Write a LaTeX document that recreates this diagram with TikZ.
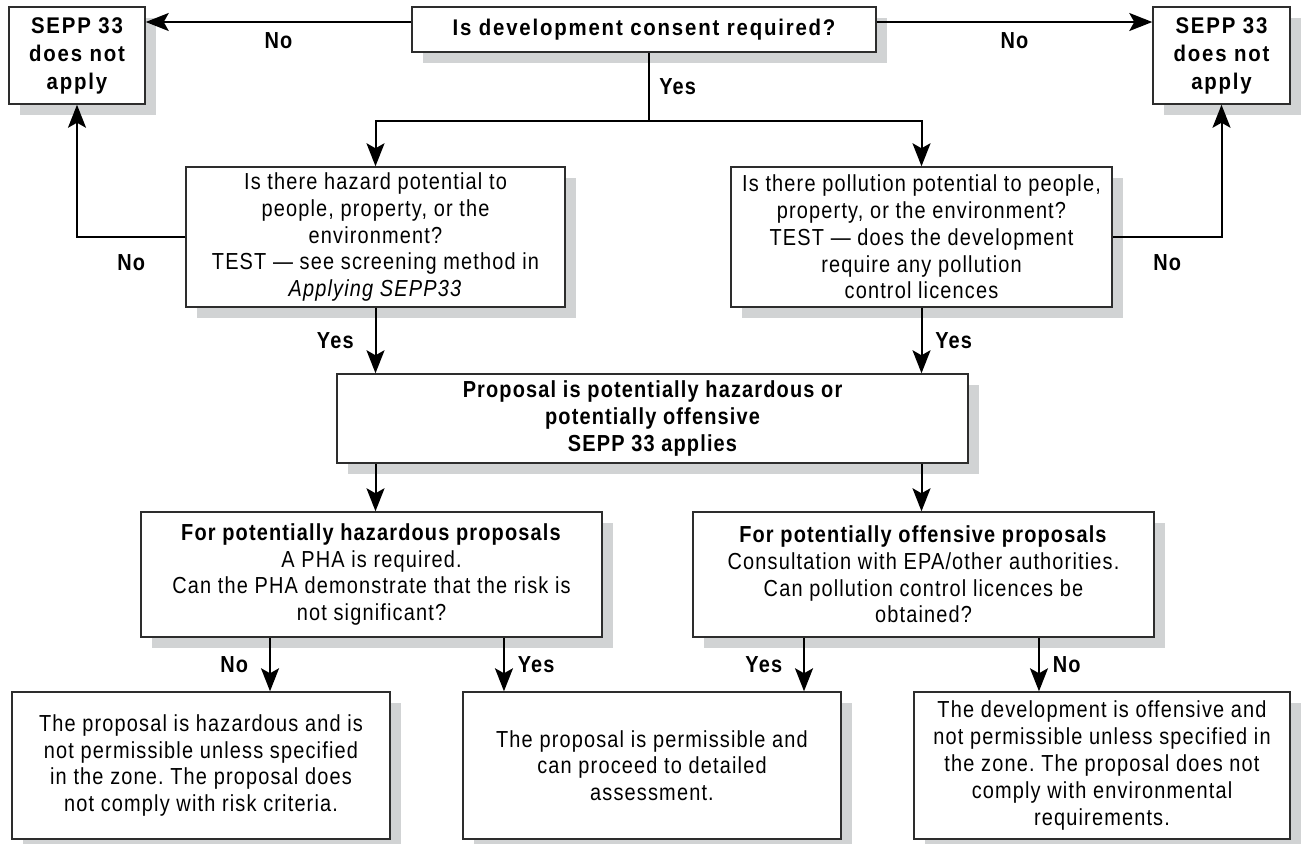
\documentclass[tikz,border=0pt]{standalone}
\usepackage{fontspec}
\setmainfont{Liberation Sans}[FakeStretch=0.86, LetterSpace=5]
\newfontfamily\widebf{Liberation Sans Bold}[FakeStretch=0.9, LetterSpace=8]
\usepackage{xcolor}
\usetikzlibrary{arrows.meta, positioning, shadows, calc}
\definecolor{shadowgray}{RGB}{209,211,212}
\definecolor{boxline}{RGB}{45,45,45}
\frenchspacing

\begin{document}
\begin{tikzpicture}[x=0.02cm, y=-0.02cm,
    box/.style={rectangle, draw=boxline, line width=0.03cm, fill=white,
                align=center, inner sep=0pt, font=\fontsize{13.2}{15.25}\selectfont,
                drop shadow={shadow xshift=0.22cm, shadow yshift=-0.22cm,
                             fill=shadowgray, opacity=1}},
    arr/.style={-{Stealth[length=0.46cm, width=0.36cm, inset=0.1cm]}, line width=0.04cm},
    line/.style={line width=0.04cm},
    lab/.style={font=\fontsize{13.2}{15.25}\selectfont\bfseries}
]
\useasboundingbox (0,0) rectangle (1304,843);

% top row
\node[box, minimum width=2.72cm, minimum height=1.94cm, font=\fontsize{12.9}{15.9}\selectfont\widebf]
    (sepL) at (77,55.5) {SEPP 33\\does not\\apply};
\node[box, minimum width=2.74cm, minimum height=1.94cm, font=\fontsize{12.9}{15.9}\selectfont\widebf]
    (sepR) at (1221.5,55.5) {SEPP 33\\does not\\apply};
\node[box, minimum width=9.28cm, minimum height=0.9cm, font=\fontsize{12.9}{15.25}\selectfont\widebf]
    (consent) at (644,29.5) {Is development consent required?};

% questions
\node[box, minimum width=7.58cm, minimum height=2.8cm] (hazard) at (375.5,237)
    {Is there hazard potential to\\people, property, or the\\environment?\\TEST — see screening method in\\\textit{Applying SEPP33}};
\node[box, minimum width=7.62cm, minimum height=2.8cm] (pollution) at (921.5,237)
    {Is there pollution potential to people,\\property, or the environment?\\TEST — does the development\\require any pollution\\control licences};

\node[box, minimum width=12.62cm, minimum height=1.78cm, font=\fontsize{13.2}{15.25}\selectfont\bfseries]
    (applies) at (652.5,418.5) {Proposal is potentially hazardous or\\potentially offensive\\SEPP 33 applies};

\node[box, minimum width=9.22cm, minimum height=2.5cm] (hazprop) at (371.5,574.5)
    {\textbf{For potentially hazardous proposals}\\A PHA is required.\\Can the PHA demonstrate that the risk is\\not significant?};
\node[box, minimum width=9.22cm, minimum height=2.5cm] (offprop) at (923.5,574.5)
    {\textbf{For potentially offensive proposals}\\Consultation with EPA/other authorities.\\Can pollution control licences be\\obtained?};

% outcomes
\node[box, minimum width=7.56cm, minimum height=2.94cm] (notperm) at (201,765.5)
    {The proposal is hazardous and is\\not permissible unless specified\\in the zone. The proposal does\\not comply with risk criteria.};
\node[box, minimum width=7.56cm, minimum height=2.94cm] (permit) at (652,765.5)
    {The proposal is permissible and\\can proceed to detailed\\assessment.};
\node[box, minimum width=7.52cm, minimum height=2.94cm] (offensive) at (1102,765.5)
    {The development is offensive and\\not permissible unless specified in\\the zone. The proposal does not\\comply with environmental\\requirements.};

% connectors
\coordinate (topL) at ([yshift=0.15cm]consent.west);
\coordinate (topR) at ([yshift=0.15cm]consent.east);
\draw[arr] (topL) -- node[lab, below=2pt]{No} (topL -| sepL.east);
\draw[arr] (topR) -- node[lab, below=2pt]{No} (topR -| sepR.west);

\coordinate (split) at (649,121);
\draw[line] (split |- consent.south) -- node[lab, right=2pt]{Yes} (split);
\draw[arr] (split) -| (hazard.north);
\draw[arr] (split) -| (pollution.north);

\draw[arr] (hazard.west) -| node[lab, below=6pt, pos=0.25]{No} (sepL.south);
\draw[arr] (pollution.east) -| node[lab, below=6pt, pos=0.25]{No} (sepR.south);

\draw[arr] (hazard.south) -- node[lab, left=0.3cm]{Yes} (hazard.south |- applies.north);
\draw[arr] (pollution.south) -- node[lab, right=0.14cm]{Yes} (pollution.south |- applies.north);
\draw[arr] (applies.south -| hazard.south) -- (hazprop.north -| hazard.south);
\draw[arr] (applies.south -| pollution.south) -- (offprop.north -| pollution.south);

\coordinate (hpNo) at ([xshift=-2.03cm]hazprop.south);
\coordinate (hpYes) at ([xshift=2.65cm]hazprop.south);
\coordinate (opYes) at ([xshift=-2.39cm]offprop.south);
\coordinate (opNo) at ([xshift=2.31cm]offprop.south);
\draw[arr] (hpNo) -- node[lab, left=0.3cm]{No} (hpNo |- notperm.north);
\draw[arr] (hpYes) -- node[lab, right=0.14cm]{Yes} (hpYes |- permit.north);
\draw[arr] (opYes) -- node[lab, left=0.3cm]{Yes} (opYes |- permit.north);
\draw[arr] (opNo) -- node[lab, right=0.14cm]{No} (opNo |- offensive.north);
\end{tikzpicture}
\end{document}
